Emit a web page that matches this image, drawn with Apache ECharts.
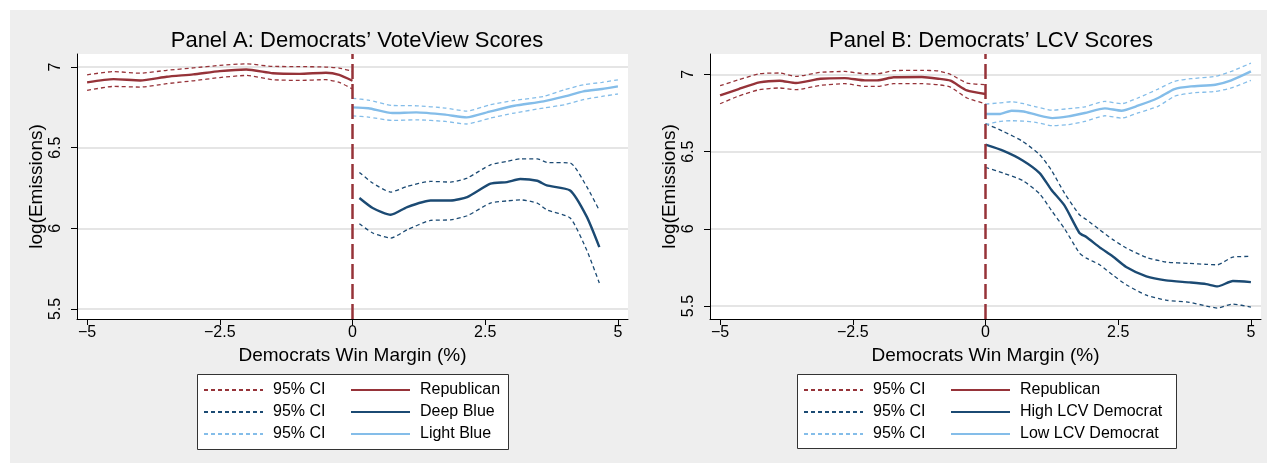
<!DOCTYPE html>
<html>
<head>
<meta charset="utf-8">
<script src="https://cdn.jsdelivr.net/npm/echarts@6/dist/echarts.min.js"></script>
<style>
  html, body { margin: 0; padding: 0; background: #ffffff; }
  #bg { position: absolute; left: 10px; top: 10px; width: 1257px; height: 453px; background: #eeeeee; }
  #chart { position: absolute; left: 0; top: 0; width: 1267px; height: 463px; }
</style>
</head>
<body>
<div id="bg"></div>
<div id="chart"></div>
<script>
// ---------- DATA ----------
const xTicks = [-5, -2.5, 0, 2.5, 5];
const yTicks = [5.5, 6, 6.5, 7];

// Panel A: VoteView
const A_rep_x  = [-5, -4.5, -4, -3.5, -3, -2.5, -2, -1.5, -1, -0.5, -0.25, 0];
const A_rep_y  = [6.905, 6.925, 6.917, 6.94, 6.955, 6.975, 6.985, 6.962, 6.958, 6.965, 6.952, 6.915];
const A_rep_hi = [6.952, 6.972, 6.962, 6.98, 6.995, 7.01, 7.02, 7.004, 7.003, 7.0, 6.994, 6.973];
const A_rep_lo = [6.855, 6.88, 6.876, 6.897, 6.915, 6.935, 6.948, 6.922, 6.917, 6.922, 6.905, 6.864];

const A_light_x  = [0, 0.3, 0.75, 1.2, 1.75, 2.15, 2.6, 3.05, 3.6, 4.0, 4.35, 4.7, 5.0];
const A_light_y  = [6.75, 6.745, 6.715, 6.719, 6.705, 6.688, 6.725, 6.76, 6.787, 6.818, 6.849, 6.864, 6.88];
const A_light_hi = [6.806, 6.795, 6.762, 6.76, 6.746, 6.727, 6.767, 6.793, 6.818, 6.86, 6.89, 6.905, 6.921];
const A_light_lo = [6.698, 6.69, 6.669, 6.673, 6.663, 6.647, 6.684, 6.715, 6.746, 6.767, 6.798, 6.818, 6.833];

const A_deep_x  = [0.13, 0.38, 0.72, 1.03, 1.47, 1.85, 2.16, 2.6, 2.91, 3.16, 3.48, 3.66, 4.1, 4.41, 4.65];
const A_deep_y  = [6.188, 6.126, 6.084, 6.132, 6.173, 6.173, 6.194, 6.277, 6.287, 6.306, 6.295, 6.266, 6.235, 6.074, 5.884];
const A_deep_hi = [6.347, 6.281, 6.225, 6.26, 6.291, 6.287, 6.312, 6.394, 6.415, 6.431, 6.431, 6.409, 6.405, 6.26, 6.111];
const A_deep_lo = [6.029, 5.971, 5.94, 5.991, 6.049, 6.053, 6.078, 6.157, 6.17, 6.177, 6.157, 6.115, 6.064, 5.867, 5.661];

// Panel B: LCV
const B_rep_x  = [-5, -4.65, -4.26, -3.88, -3.57, -3.11, -2.65, -2.27, -2.04, -1.73, -1.2, -0.89, -0.66, -0.35, 0];
const B_rep_y  = [6.864, 6.905, 6.948, 6.959, 6.944, 6.972, 6.976, 6.961, 6.961, 6.981, 6.983, 6.972, 6.959, 6.896, 6.873];
const B_rep_hi = [6.927, 6.965, 7.004, 7.009, 6.987, 7.013, 7.019, 7.004, 7.004, 7.024, 7.026, 7.022, 7.0, 6.944, 6.933];
const B_rep_lo = [6.81, 6.86, 6.901, 6.912, 6.901, 6.929, 6.94, 6.922, 6.922, 6.94, 6.94, 6.933, 6.918, 6.847, 6.81];

const B_low_x  = [0, 0.26, 0.49, 0.72, 0.95, 1.26, 1.56, 1.87, 2.25, 2.56, 2.87, 3.25, 3.56, 3.87, 4.33, 4.63, 5.0];
const B_low_y  = [6.743, 6.743, 6.765, 6.76, 6.739, 6.717, 6.728, 6.75, 6.78, 6.765, 6.797, 6.847, 6.905, 6.922, 6.933, 6.961, 7.019];
const B_low_hi = [6.808, 6.815, 6.823, 6.81, 6.79, 6.768, 6.778, 6.79, 6.825, 6.81, 6.847, 6.905, 6.955, 6.972, 6.987, 7.019, 7.073];
const B_low_lo = [6.674, 6.695, 6.7, 6.697, 6.689, 6.668, 6.675, 6.695, 6.732, 6.717, 6.75, 6.793, 6.858, 6.879, 6.89, 6.912, 6.961];

const B_high_x  = [0, 0.34, 0.70, 1.02, 1.24, 1.49, 1.77, 1.90, 2.15, 2.40, 2.65, 3.03, 3.40, 3.84, 4.16, 4.37, 4.66, 5.0];
const B_high_y  = [6.545, 6.505, 6.443, 6.361, 6.253, 6.15, 5.973, 5.947, 5.88, 5.821, 5.753, 5.692, 5.666, 5.653, 5.642, 5.627, 5.662, 5.655];
const B_high_hi = [6.681, 6.63, 6.566, 6.48, 6.38, 6.23, 6.091, 6.06, 5.994, 5.93, 5.876, 5.815, 5.785, 5.776, 5.77, 5.767, 5.817, 5.821];
const B_high_lo = [6.398, 6.36, 6.313, 6.227, 6.12, 6.0, 5.843, 5.81, 5.767, 5.7, 5.638, 5.57, 5.538, 5.524, 5.5, 5.487, 5.513, 5.493];

const titles = ['Panel A: Democrats\u2019 VoteView Scores', 'Panel B: Democrats\u2019 LCV Scores'];
const labels = {
  A_ci_rep: '95% CI', A_ci_deep: '95% CI', A_ci_light: '95% CI',
  A_rep: 'Republican', A_deep: 'Deep Blue', A_light: 'Light Blue',
  B_ci_rep: '95% CI', B_ci_deep: '95% CI', B_ci_light: '95% CI',
  B_rep: 'Republican', B_deep: 'High LCV Democrat', B_light: 'Low LCV Democrat'
};

// ---------- STYLE ----------
const RED = '#963339', DEEP = '#1b4a73', LIGHT = '#84bde9';
const FONT = '"Liberation Sans", Arial, Helvetica, sans-serif';
const zip = (xs, ys) => xs.map((x, i) => [x, ys[i]]);
const fmt = v => (v < 0 ? '\u2212' + Math.abs(v) : String(v));

function lineS(name, idx, xs, ys, color, dashed, extra) {
  return Object.assign({
    name: name, type: 'line', xAxisIndex: idx, yAxisIndex: idx,
    data: zip(xs, ys), symbol: 'none', smooth: 0.2, silent: true,
    lineStyle: dashed ? { color: color, width: 1.3, type: [4, 3] } : { color: color, width: 2.4 },
    itemStyle: { color: color }, z: dashed ? 3 : 4
  }, extra || {});
}
const zeroLine = {
  silent: true, symbol: ['none', 'none'], label: { show: false },
  lineStyle: { color: RED, width: 2.5, type: [15, 5] },
  data: [{ xAxis: 0 }]
};

const grids = [
  { left: 77, top: 54, width: 551, height: 265 },
  { left: 710, top: 54, width: 551, height: 265 }
];
const yRanges = [[5.438, 7.081], [5.416, 7.132]];

function xAxis(i) {
  return {
    type: 'value', gridIndex: i, min: -5.19, max: 5.19,
    name: 'Democrats Win Margin (%)', nameLocation: 'middle', nameGap: 24,
    nameTextStyle: { fontFamily: FONT, fontSize: 19, color: '#000' },
    axisLine: { show: true, onZero: false, lineStyle: { color: '#000', width: 1 } },
    axisTick: { show: true, length: 6, customValues: xTicks, lineStyle: { color: '#000' } },
    axisLabel: { customValues: xTicks, formatter: fmt, margin: 6, fontFamily: FONT, fontSize: 16, color: '#000' },
    splitLine: { show: false }
  };
}
function yAxis(i) {
  return {
    type: 'value', gridIndex: i, min: yRanges[i][0], max: yRanges[i][1],
    name: 'log(Emissions)', nameLocation: 'middle', nameGap: 31,
    nameTextStyle: { fontFamily: FONT, fontSize: 19, color: '#000' },
    axisLine: { show: true, onZero: false, lineStyle: { color: '#000', width: 1 } },
    axisTick: { show: true, length: 6, customValues: yTicks, lineStyle: { color: '#000' } },
    axisLabel: { customValues: yTicks, rotate: 90, margin: 13, fontFamily: FONT, fontSize: 16, color: '#000', formatter: v => String(v) },
    splitLine: { show: true, lineStyle: { color: '#dcdcdc', width: 1.5 } }
  };
}
function legend(left, names) {
  return {
    orient: 'vertical', left: left, top: 382, padding: 0, itemGap: 6,
    itemWidth: 59, itemHeight: 16, selectedMode: false,
    data: names, formatter: n => labels[n],
    itemStyle: { opacity: 0 },
    textStyle: { fontFamily: FONT, fontSize: 16, color: '#000', lineHeight: 16, padding: [0, 0, 0, 5] }
  };
}

const option = {
  animation: false,
  backgroundColor: 'transparent',
  title: [
    { text: titles[0], left: 352, top: 25, textAlign: 'center', textStyle: { fontFamily: FONT, fontSize: 22, fontWeight: 'normal', color: '#000' } },
    { text: titles[1], left: 986, top: 25, textAlign: 'center', textStyle: { fontFamily: FONT, fontSize: 22, fontWeight: 'normal', color: '#000' } }
  ],
  grid: grids.map(g => Object.assign({ show: true, backgroundColor: '#ffffff', borderWidth: 0 }, g)),
  xAxis: [xAxis(0), xAxis(1)],
  yAxis: [yAxis(0), yAxis(1)],
  graphic: [
    { type: 'rect', left: 197, top: 374, shape: { width: 311, height: 75 }, style: { fill: '#fff', stroke: '#333', lineWidth: 1 }, z: 0 },
    { type: 'rect', left: 797, top: 374, shape: { width: 379, height: 74 }, style: { fill: '#fff', stroke: '#333', lineWidth: 1 }, z: 0 }
  ],
  legend: [
    legend(203, ['A_ci_rep', 'A_ci_deep', 'A_ci_light']),
    legend(350, ['A_rep', 'A_deep', 'A_light']),
    legend(803, ['B_ci_rep', 'B_ci_deep', 'B_ci_light']),
    legend(950, ['B_rep', 'B_deep', 'B_light'])
  ],
  series: [
    lineS('A_ci_rep', 0, A_rep_x, A_rep_hi, RED, true),
    lineS('A_ci_rep', 0, A_rep_x, A_rep_lo, RED, true),
    lineS('A_ci_deep', 0, A_deep_x, A_deep_hi, DEEP, true),
    lineS('A_ci_deep', 0, A_deep_x, A_deep_lo, DEEP, true),
    lineS('A_ci_light', 0, A_light_x, A_light_hi, LIGHT, true),
    lineS('A_ci_light', 0, A_light_x, A_light_lo, LIGHT, true),
    lineS('A_rep', 0, A_rep_x, A_rep_y, RED, false, { markLine: zeroLine }),
    lineS('A_deep', 0, A_deep_x, A_deep_y, DEEP, false),
    lineS('A_light', 0, A_light_x, A_light_y, LIGHT, false),

    lineS('B_ci_rep', 1, B_rep_x, B_rep_hi, RED, true),
    lineS('B_ci_rep', 1, B_rep_x, B_rep_lo, RED, true),
    lineS('B_ci_deep', 1, B_high_x, B_high_hi, DEEP, true),
    lineS('B_ci_deep', 1, B_high_x, B_high_lo, DEEP, true),
    lineS('B_ci_light', 1, B_low_x, B_low_hi, LIGHT, true),
    lineS('B_ci_light', 1, B_low_x, B_low_lo, LIGHT, true),
    lineS('B_rep', 1, B_rep_x, B_rep_y, RED, false, { markLine: zeroLine }),
    lineS('B_deep', 1, B_high_x, B_high_y, DEEP, false),
    lineS('B_light', 1, B_low_x, B_low_y, LIGHT, false)
  ]
};

const chart = echarts.init(document.getElementById('chart'), null, { renderer: 'canvas' });
chart.setOption(option);
</script>
</body>
</html>
